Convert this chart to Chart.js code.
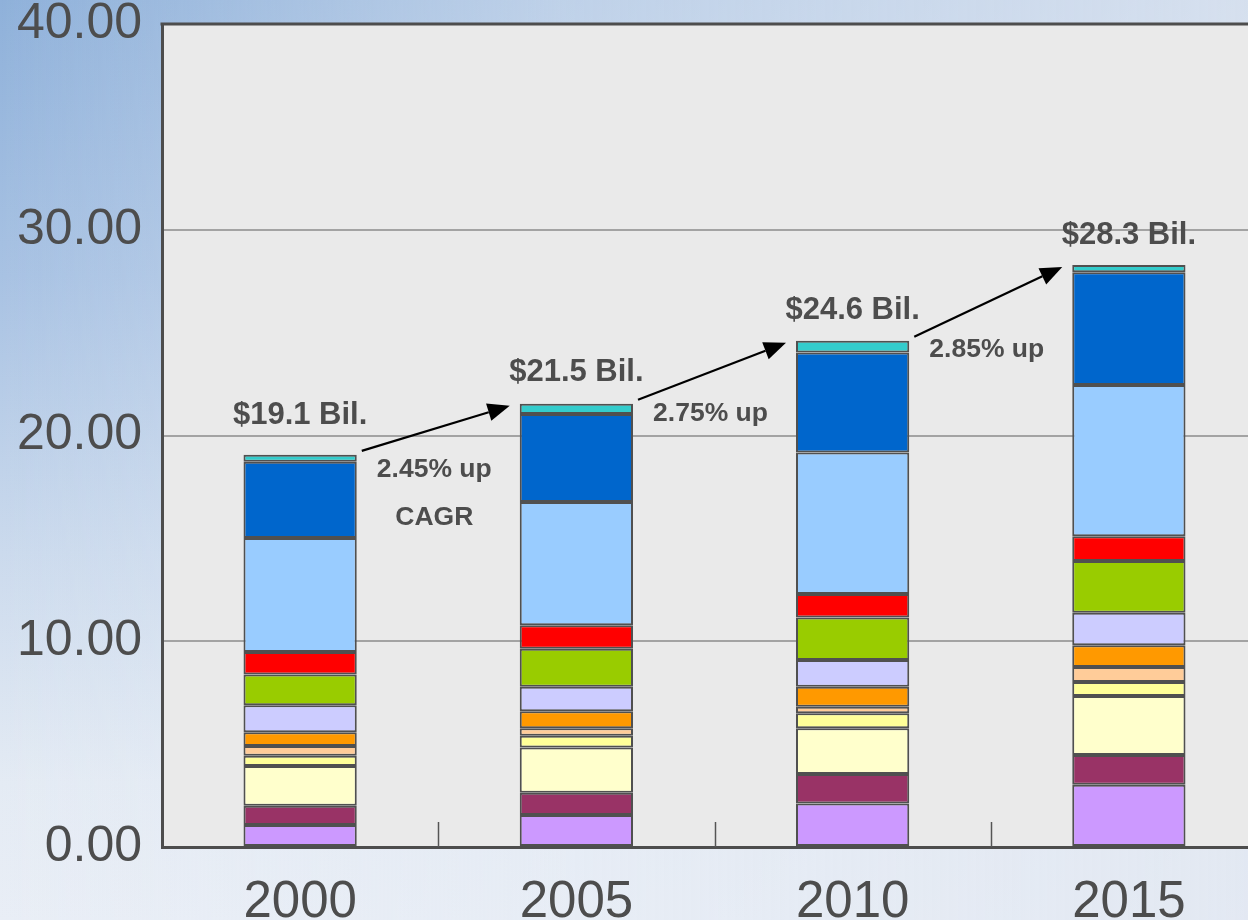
<!DOCTYPE html>
<html>
<head>
<meta charset="utf-8">
<script src="https://cdn.jsdelivr.net/npm/chart.js@4/dist/chart.umd.min.js"></script>
<style>
  html, body { margin:0; padding:0; width:1248px; height:920px; overflow:hidden; }
  body {
    background:
      linear-gradient(to right, rgba(255,255,255,0) 0%, rgba(230,236,245,0.55) 45%, rgba(226,232,242,0.85) 100%),
      linear-gradient(to bottom, #8fb1da 0%, #a8c2e3 30%, #cbdaed 60%, #e4ebf4 85%, #e9eef6 100%);
  }
  #wrap { position:absolute; left:0; top:0; width:1267px; height:920px; }
</style>
</head>
<body>
<div id="wrap"><canvas id="c" width="1267" height="920"></canvas></div>
<script>
// ---- data ----
const years = ['2000', '2005', '2010', '2015'];
const purple      = [1.07, 1.56, 2.12, 3.03];
const maroon      = [0.94, 1.08, 1.43, 1.44];
const lightYellow = [1.93, 2.19, 2.22, 2.87];
const yellow      = [0.50, 0.58, 0.73, 0.68];
const peach       = [0.47, 0.36, 0.32, 0.73];
const orange      = [0.67, 0.83, 0.97, 1.05];
const lavender    = [1.31, 1.19, 1.30, 1.58];
const green       = [1.50, 1.85, 2.06, 2.52];
const red         = [1.09, 1.14, 1.15, 1.20];
const lightBlue   = [5.54, 5.99, 6.87, 7.36];
const darkBlue    = [3.71, 4.28, 4.86, 5.47];
const teal        = [0.33, 0.49, 0.57, 0.36];
const growthLabels = ['2.45% up', '2.75% up', '2.85% up'];
const cagrLabel = 'CAGR';
const yMin = 0, yMax = 40, yStep = 10;

const seriesList = [
  { label: 'Segment 1',  data: purple,      color: '#CC99FF' },
  { label: 'Segment 2',  data: maroon,      color: '#993366' },
  { label: 'Segment 3',  data: lightYellow, color: '#FFFFCC' },
  { label: 'Segment 4',  data: yellow,      color: '#FFFF99' },
  { label: 'Segment 5',  data: peach,       color: '#FFCC99' },
  { label: 'Segment 6',  data: orange,      color: '#FF9900' },
  { label: 'Segment 7',  data: lavender,    color: '#CCCCFF' },
  { label: 'Segment 8',  data: green,       color: '#99CC00' },
  { label: 'Segment 9',  data: red,         color: '#FF0000' },
  { label: 'Segment 10', data: lightBlue,   color: '#99CCFF' },
  { label: 'Segment 11', data: darkBlue,    color: '#0066CC' },
  { label: 'Segment 12', data: teal,        color: '#33CCCC' }
];

const FONT = '"Liberation Sans", Arial, Helvetica, sans-serif';
const TEXT = '#4d4d4d';

const decorPlugin = {
  id: 'decor',
  beforeDraw(chart) {
    const { ctx, chartArea: a } = chart;
    ctx.save();
    ctx.fillStyle = '#EAEAEA';
    ctx.fillRect(a.left, a.top, a.right - a.left, a.bottom - a.top);
    ctx.restore();
  },
  afterDatasetsDraw(chart, args, opts) {
    const { ctx, chartArea: a } = chart;
    const xs = chart.scales.x, ys = chart.scales.y;
    const n = years.length;
    ctx.save();
    // top frame line
    ctx.strokeStyle = '#4d4d4d';
    ctx.lineWidth = 3;
    ctx.beginPath();
    ctx.moveTo(a.left - 1.5, a.top);
    ctx.lineTo(a.right, a.top);
    ctx.stroke();
    // inner tick marks at category boundaries
    ctx.strokeStyle = '#555';
    ctx.lineWidth = 1.5;
    for (let i = 0; i < n - 1; i++) {
      const bx = Math.round((xs.getPixelForValue(i) + xs.getPixelForValue(i + 1)) / 2) + 0.5;
      ctx.beginPath();
      ctx.moveTo(bx, a.bottom);
      ctx.lineTo(bx, a.bottom - 25);
      ctx.stroke();
    }
    // totals & bar geometry
    const lastMeta = chart.getDatasetMeta(chart.data.datasets.length - 1);
    const tops = [], lefts = [], rights = [], totals = [];
    for (let i = 0; i < n; i++) {
      let t = 0;
      chart.data.datasets.forEach(ds => { t += ds.data[i]; });
      totals.push(t);
      tops.push(ys.getPixelForValue(t));
      const el = lastMeta.data[i];
      lefts.push(el.x - el.width / 2);
      rights.push(el.x + el.width / 2);
    }
    // total labels
    ctx.fillStyle = TEXT;
    ctx.textAlign = 'center';
    ctx.textBaseline = 'middle';
    ctx.font = 'bold 31px ' + FONT;
    for (let i = 0; i < n; i++) {
      const cx = xs.getPixelForValue(i);
      ctx.fillText('$' + totals[i].toFixed(1) + ' Bil.', cx, tops[i] - opts.totalOffsets[i]);
    }
    // arrows
    ctx.strokeStyle = '#000';
    ctx.fillStyle = '#000';
    ctx.lineWidth = 2.2;
    for (let i = 0; i < n - 1; i++) {
      const x1 = rights[i] + 5, y1 = tops[i] - 4;
      const x2 = lefts[i + 1] - 10, y2 = tops[i + 1] + 2;
      const ang = Math.atan2(y2 - y1, x2 - x1);
      const hl = 22, hw = 9;
      const bx = x2 - hl * Math.cos(ang), by = y2 - hl * Math.sin(ang);
      ctx.beginPath();
      ctx.moveTo(x1, y1);
      ctx.lineTo(bx, by);
      ctx.stroke();
      ctx.beginPath();
      ctx.moveTo(x2, y2);
      ctx.lineTo(bx + hw * Math.sin(ang), by - hw * Math.cos(ang));
      ctx.lineTo(bx - hw * Math.sin(ang), by + hw * Math.cos(ang));
      ctx.closePath();
      ctx.fill();
    }
    // growth labels
    ctx.fillStyle = TEXT;
    ctx.font = 'bold 26.5px ' + FONT;
    for (let i = 0; i < n - 1; i++) {
      const mx = (xs.getPixelForValue(i) + xs.getPixelForValue(i + 1)) / 2 - 4;
      const gy = tops[i] + opts.growthOffsets[i];
      ctx.fillText(growthLabels[i], mx, gy);
      if (i === 0) ctx.fillText(cagrLabel, mx, gy + 48);
    }
    ctx.restore();
  }
};

new Chart(document.getElementById('c'), {
  type: 'bar',
  data: {
    labels: years,
    datasets: seriesList.map(s => ({
      label: s.label,
      data: s.data,
      backgroundColor: s.color,
      borderColor: '#505050',
      borderWidth: 2,
      borderSkipped: false,
      barPercentage: 0.41,
      categoryPercentage: 1.0
    }))
  },
  plugins: [decorPlugin],
  options: {
    responsive: false,
    animation: false,
    devicePixelRatio: 1,
    layout: { padding: { top: 24, right: 0, left: 0, bottom: 0 } },
    plugins: {
      legend: { display: false },
      tooltip: { enabled: false },
      decor: { totalOffsets: [39, 31, 30, 29], growthOffsets: [15, 10, 9] }
    },
    scales: {
      x: {
        stacked: true,
        offset: true,
        grid: { display: false, drawTicks: false },
        border: { display: true, color: '#4d4d4d', width: 3 },
        ticks: { color: TEXT, font: { family: FONT, size: 51 }, padding: 25, maxRotation: 0 },
        afterFit(s) { s.height = 73; s.paddingLeft = 0; s.paddingRight = 0; }
      },
      y: {
        stacked: true,
        min: yMin, max: yMax,
        ticks: {
          stepSize: yStep,
          color: TEXT,
          font: { family: FONT, size: 50 },
          padding: 20,
          callback: v => Number(v).toFixed(2)
        },
        grid: {
          drawTicks: false,
          lineWidth: 2,
          color: c => (c.tick && (c.tick.value === yMin || c.tick.value === yMax)) ? 'rgba(0,0,0,0)' : '#a3a3a3'
        },
        border: { display: true, color: '#4d4d4d', width: 3 },
        afterFit(s) { s.width = 162; s.paddingTop = 0; s.paddingBottom = 0; }
      }
    }
  }
});
</script>
</body>
</html>
